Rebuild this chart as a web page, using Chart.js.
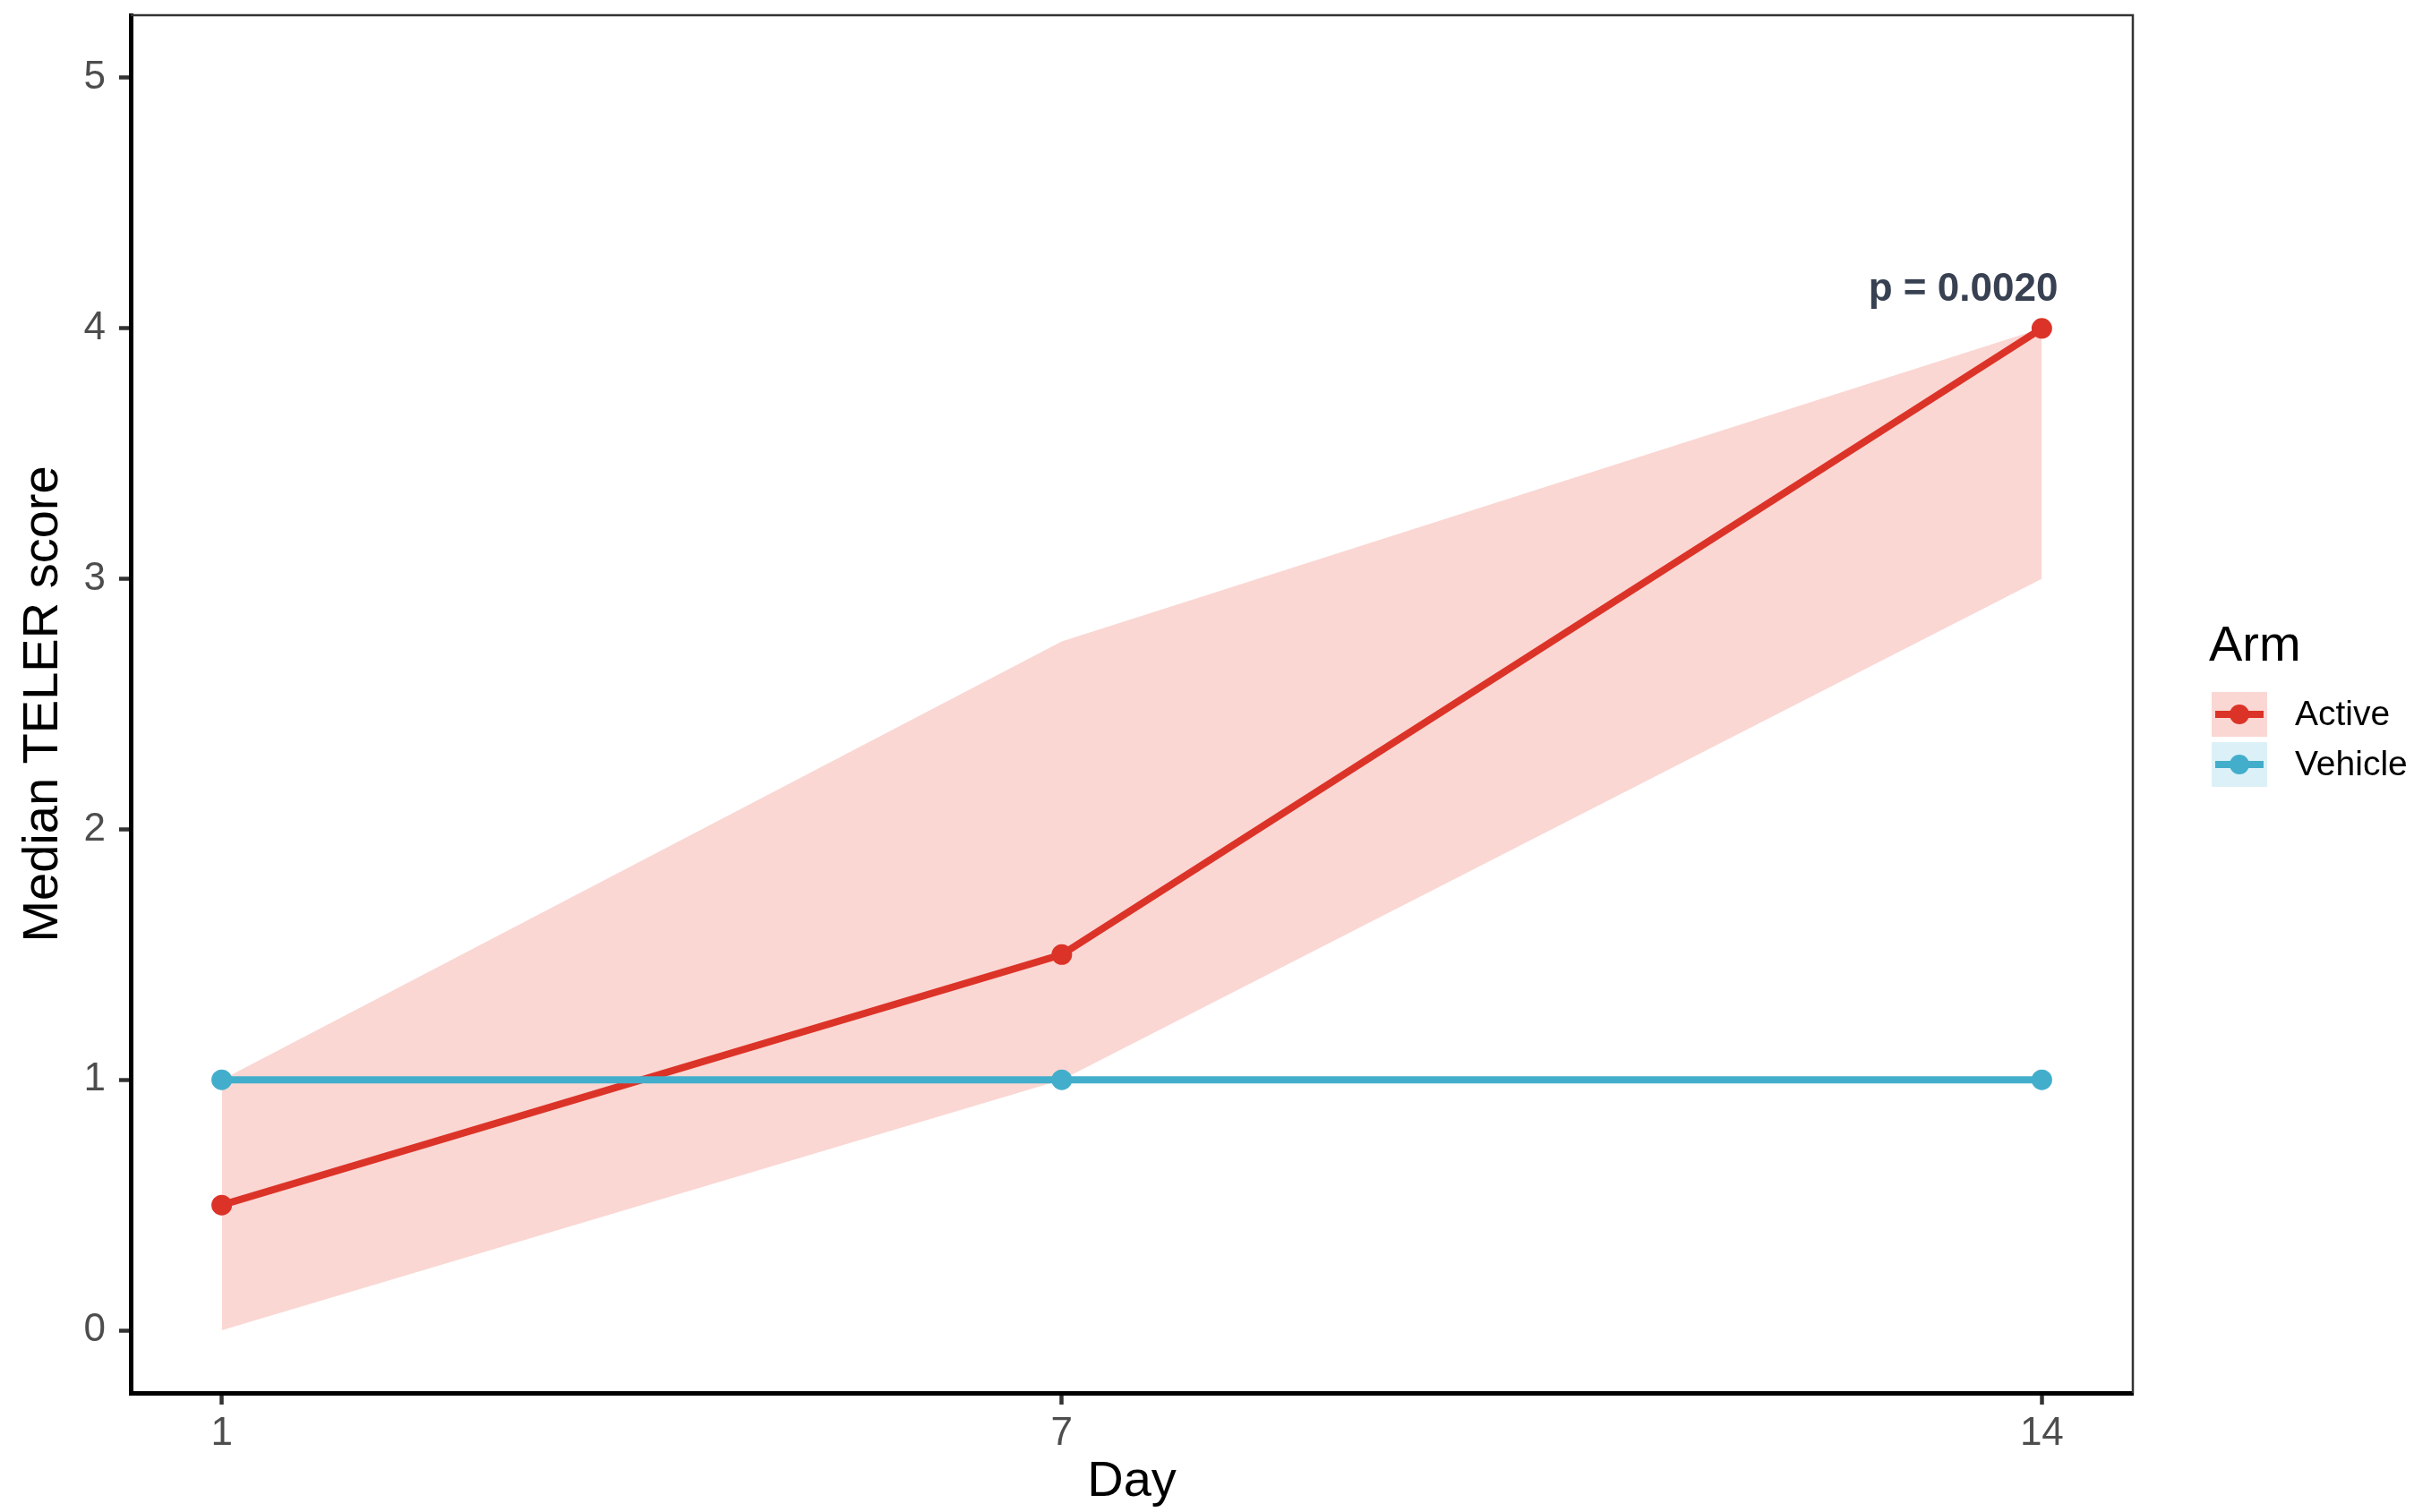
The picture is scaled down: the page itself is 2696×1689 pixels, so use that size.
<!DOCTYPE html>
<html>
<head>
<meta charset="utf-8">
<style>
  html, body { margin: 0; padding: 0; background: #fff; }
  canvas { display: block; }
</style>
</head>
<body>
<canvas id="telerChart" width="2696" height="1689"></canvas>
<script src="https://cdn.jsdelivr.net/npm/chart.js"></script>
<script>
  const days = [1, 7, 14]
  const dayTicks = [1, 7, 14]
  const scoreTicks = [0, 1, 2, 3, 4, 5]

  const activeMedian = [0.5, 1.5, 4]
  const activeLo = [0, 1, 3]
  const activeHi = [1, 2.75, 4]

  const vehicleMedian = [1, 1, 1]
  const vehicleLo = [1, 1, 1]
  const vehicleHi = [1, 1, 1]

  const arms = ['Active', 'Vehicle']
  const pNote = 'p = 0.0020'

  const FONT = '"Liberation Sans", Arial, Helvetica, sans-serif'
  const RED = '#DC3328'
  const BLUE = '#43AECB'
  const RED_FILL = 'rgba(230, 75, 53, 0.22)'
  const BLUE_FILL = 'rgba(77, 187, 213, 0.2)'

  const pts = arr => days.map((d, i) => ({ x: d, y: arr[i] }));

  (() => {
    const ctx = document.getElementById('telerChart').getContext('2d')

    const ribbon = (data, fill, bg) => ({
      data: pts(data),
      fill,
      backgroundColor: bg,
      borderWidth: 0,
      pointRadius: 0,
      tension: 0,
      order: 5,
    })

    const line = (label, data, color, order) => ({
      label,
      data: pts(data),
      borderColor: color,
      backgroundColor: color,
      borderWidth: 8,
      pointRadius: 11.5,
      pointBackgroundColor: color,
      pointBorderWidth: 0,
      fill: false,
      tension: 0,
      order,
    })

    // panel border (thin top/right), white background, legend, p-value note
    const decor = {
      id: 'decor',
      beforeDraw(chart) {
        const c = chart.ctx
        c.save()
        c.fillStyle = '#fff'
        c.fillRect(0, 0, chart.width, chart.height)
        c.restore()
      },
      afterDraw(chart) {
        const c = chart.ctx
        const { left, right, top, bottom } = chart.chartArea
        c.save()
        c.strokeStyle = '#333'
        c.lineWidth = 2.5
        c.beginPath()
        c.moveTo(left, top)
        c.lineTo(right, top)
        c.lineTo(right, bottom)
        c.stroke()

        // p value above the last Active point
        const xs = chart.scales.x, ys = chart.scales.y
        const n = days.length - 1
        const px = xs.getPixelForValue(days[n])
        const py = ys.getPixelForValue(activeMedian[n])
        c.fillStyle = '#384152'
        c.font = 'bold 44px ' + FONT
        c.textAlign = 'right'
        c.textBaseline = 'alphabetic'
        c.fillText(pNote, px + 18, py - 31)

        // legend
        const lx = right + 88
        c.fillStyle = '#000'
        c.textAlign = 'left'
        c.font = '56px ' + FONT
        c.fillText('Arm', lx - 3, 738)
        const keys = [
          { name: arms[0], color: RED, fill: RED_FILL },
          { name: arms[1], color: BLUE, fill: BLUE_FILL },
        ]
        keys.forEach((k, i) => {
          const ky = 773 + i * 56
          c.fillStyle = k.fill
          c.fillRect(lx, ky, 62, 50)
          c.strokeStyle = k.color
          c.lineWidth = 8
          c.beginPath()
          c.moveTo(lx + 4, ky + 25)
          c.lineTo(lx + 58, ky + 25)
          c.stroke()
          c.fillStyle = k.color
          c.beginPath()
          c.arc(lx + 31, ky + 25, 11, 0, Math.PI * 2)
          c.fill()
          c.fillStyle = '#000'
          c.font = '39px ' + FONT
          c.textBaseline = 'middle'
          c.fillText(k.name, lx + 93, ky + 26)
          c.textBaseline = 'alphabetic'
        })
        c.restore()
      }
    }

    new Chart(ctx, {
      type: 'line',
      data: {
        datasets: [
          ribbon(activeHi, '+1', RED_FILL),
          ribbon(activeLo, false, RED_FILL),
          ribbon(vehicleHi, '+1', BLUE_FILL),
          ribbon(vehicleLo, false, BLUE_FILL),
          line(arms[0], activeMedian, RED, 2),
          line(arms[1], vehicleMedian, BLUE, 1),
        ]
      },
      options: {
        responsive: false,
        devicePixelRatio: 1,
        animation: false,
        layout: { padding: { top: 17, right: 314, bottom: 0, left: 0 } },
        plugins: {
          legend: { display: false },
          tooltip: { enabled: false },
        },
        scales: {
          x: {
            type: 'linear',
            min: 0.35,
            max: 14.65,
            afterBuildTicks: s => { s.ticks = dayTicks.map(v => ({ value: v })) },
            afterFit: s => { s.height = 133; s.paddingLeft = 0; s.paddingRight = 0 },
            ticks: {
              color: '#4D4D4D',
              font: { family: FONT, size: 44 },
              padding: 6,
              maxRotation: 0,
              autoSkip: false,
            },
            grid: {
              drawOnChartArea: false,
              drawTicks: true,
              tickLength: 13,
              tickWidth: 4.5,
              tickColor: '#333',
            },
            border: { display: true, color: '#000', width: 5 },
            title: {
              display: true,
              text: 'Day',
              color: '#000',
              font: { family: FONT, size: 56 },
              padding: { top: -5, bottom: 0 },
            },
          },
          y: {
            type: 'linear',
            min: -0.25,
            max: 5.25,
            afterBuildTicks: s => { s.ticks = scoreTicks.map(v => ({ value: v })) },
            afterFit: s => { s.width = 146; s.paddingTop = 0; s.paddingBottom = 0 },
            ticks: {
              color: '#4D4D4D',
              font: { family: FONT, size: 44 },
              padding: 15,
            },
            grid: {
              drawOnChartArea: false,
              drawTicks: true,
              tickLength: 13,
              tickWidth: 4.5,
              tickColor: '#333',
            },
            border: { display: true, color: '#000', width: 5 },
            title: {
              display: true,
              text: 'Median TELER score',
              color: '#000',
              font: { family: FONT, size: 56 },
              padding: { top: 15, bottom: 0 },
            },
          }
        }
      },
      plugins: [decor]
    })
  })()
</script>
</body>
</html>
